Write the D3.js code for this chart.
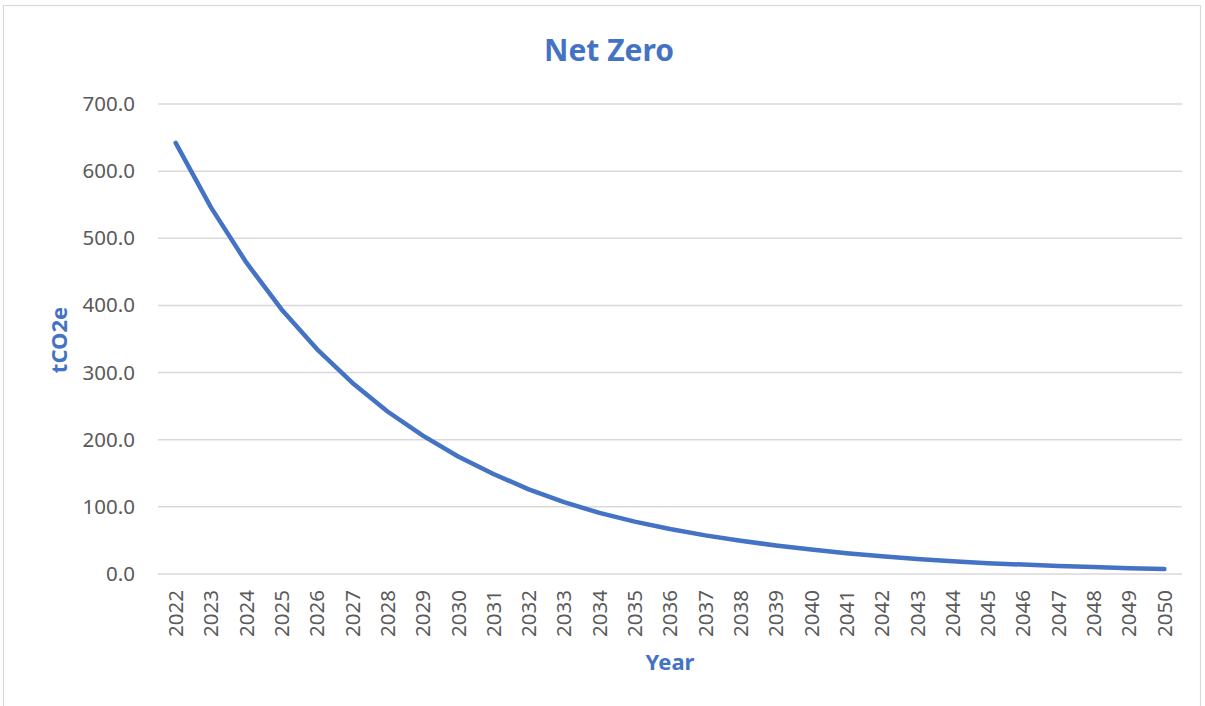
<!DOCTYPE html>
<html>
<head>
<meta charset="utf-8">
<script src="https://cdn.jsdelivr.net/npm/d3@7"></script>
<style>
  body { margin: 0; background: #fff; }
  text { font-family: "Noto Sans", sans-serif; }
</style>
</head>
<body>
<svg id="chart"></svg>
<script>
// data
var years = ["2022","2023","2024","2025","2026","2027","2028","2029","2030","2031",
             "2032","2033","2034","2035","2036","2037","2038","2039","2040","2041",
             "2042","2043","2044","2045","2046","2047","2048","2049","2050"];
var emissions = [642, 546, 464, 394, 335, 285, 242, 206, 175, 149,
                 126, 107, 91, 78, 67, 57.5, 49.5, 42.5, 36.5, 31,
                 26.5, 22.5, 19, 16, 14, 12, 10.3, 8.7, 7.3];
var yTicks = [0, 100, 200, 300, 400, 500, 600, 700];

var W = 1205, H = 706;
var margin = {top: 104, right: 23, bottom: 132, left: 158},
    width = W - margin.left - margin.right,
    height = H - margin.top - margin.bottom;

var blue = "#4472C4";

var svg = d3.select("#chart")
    .attr("width", W)
    .attr("height", H);

// outer chart border
svg.append("rect")
    .attr("x", 3.5).attr("y", 5.5)
    .attr("width", 1197).attr("height", 710)
    .attr("fill", "none")
    .attr("stroke", "#d9d9d9")
    .attr("stroke-width", 1.2);

// title
svg.append("text")
    .attr("x", 609).attr("y", 61)
    .attr("text-anchor", "middle")
    .attr("fill", blue)
    .style("font-size", "30px")
    .style("font-weight", "bold")
    .text("Net Zero");

var g = svg.append("g")
    .attr("transform", "translate(" + margin.left + "," + margin.top + ")");

// scales
var x = d3.scaleBand().domain(years).range([0, width]).padding(0);
var y = d3.scaleLinear().domain([0, 700]).range([height, 0]);

// gridlines
g.append("g")
  .selectAll("line")
  .data(yTicks)
  .enter().append("line")
    .attr("x1", 0).attr("x2", width)
    .attr("y1", function(d) { return y(d); })
    .attr("y2", function(d) { return y(d); })
    .attr("stroke", "#d9d9d9")
    .attr("stroke-width", 1.5);

// y axis
var yAxis = g.append("g")
    .call(d3.axisLeft(y).tickValues(yTicks).tickFormat(d3.format(".1f")).tickSize(0).tickPadding(23));
yAxis.select(".domain").remove();
yAxis.selectAll("text")
    .attr("fill", "#595959")
    .style("font-size", "20.5px")
    .style("font-family", "'Noto Sans', sans-serif");

// x axis
var xAxis = g.append("g")
    .attr("transform", "translate(0," + height + ")")
    .call(d3.axisBottom(x).tickSize(0));
xAxis.select(".domain").remove();
xAxis.selectAll("text")
    .attr("transform", "rotate(-90)")
    .attr("x", -16)
    .attr("y", 0)
    .attr("dy", "0.36em")
    .style("text-anchor", "end")
    .attr("fill", "#595959")
    .style("font-size", "20.5px")
    .style("font-family", "'Noto Sans', sans-serif");

// axis titles
svg.append("text")
    .attr("transform", "translate(67,340) rotate(-90)")
    .attr("text-anchor", "middle")
    .attr("fill", blue)
    .style("font-size", "22px")
    .style("font-weight", "bold")
    .text("tCO2e");

svg.append("text")
    .attr("x", margin.left + width / 2)
    .attr("y", 670)
    .attr("text-anchor", "middle")
    .attr("fill", blue)
    .style("font-size", "22px")
    .style("font-weight", "bold")
    .text("Year");

// the line
var line = d3.line()
    .x(function(d, i) { return x(years[i]) + x.bandwidth() / 2; })
    .y(function(d) { return y(d); });

g.append("path")
    .datum(emissions)
    .attr("fill", "none")
    .attr("stroke", blue)
    .attr("stroke-width", 4.5)
    .attr("stroke-linecap", "round")
    .attr("stroke-linejoin", "round")
    .attr("d", line);
</script>
</body>
</html>
